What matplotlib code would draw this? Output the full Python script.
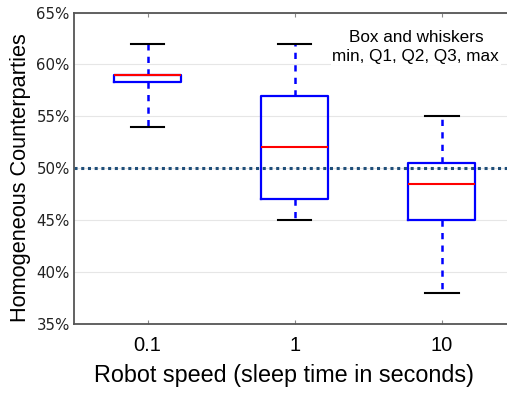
import matplotlib
matplotlib.use('Agg')
from matplotlib import pyplot as plt
from matplotlib.ticker import FuncFormatter

# Box stats (percent)
labels = ['0.1', '1', '10']
mins = [54.0, 45.0, 38.0]
q1s = [58.3, 47.0, 45.0]
medians = [59.0, 52.0, 48.5]
q3s = [59.0, 57.0, 50.5]
maxs = [62.0, 62.0, 55.0]
baseline = 50.0

stats = []
for lab, lo, q1, med, q3, hi in zip(labels, mins, q1s, medians, q3s, maxs):
    stats.append({'label': lab, 'whislo': lo, 'q1': q1, 'med': med,
                  'q3': q3, 'whishi': hi, 'fliers': []})

fig = plt.figure(figsize=(5.07, 3.93), dpi=100)
ax = fig.add_axes([0.146, 0.176, 0.87, 0.792])

# Grid lines behind everything
ax.set_axisbelow(True)
ax.yaxis.grid(True, color='#e6e6e6', linewidth=0.8)

ax.bxp(stats, positions=[1, 2, 3], widths=0.46, showfliers=False,
       boxprops=dict(color='#0000ff', linewidth=1.6),
       whiskerprops=dict(color='#0000ff', linewidth=1.8, linestyle=(0, (2.5, 2.5))),
       capprops=dict(color='black', linewidth=1.5),
       medianprops=dict(color='#ff0000', linewidth=1.5),
       capwidths=0.23)

# 50% reference line
ax.axhline(baseline, color='#1f4e79', linewidth=2.2, linestyle=(0, (1, 1.2)), zorder=1)

ax.set_xlim(0.5, 3.5)
ax.set_ylim(35, 65)
ax.set_yticks([35, 40, 45, 50, 55, 60, 65])
ax.yaxis.set_major_formatter(FuncFormatter(lambda v, p: '%d%%' % v))
for lab in ax.get_yticklabels():
    lab.set_fontsize(10.8)
    lab.set_color('#222222')

ax.set_xticks([1, 2, 3])
ax.set_xticklabels(labels, fontsize=14.5, family='Liberation Sans')
ax.tick_params(axis='x', direction='in', top=True, length=3, color='#888888', pad=9)
ax.tick_params(axis='y', length=0, pad=3)

for s in ['left', 'bottom', 'top']:
    ax.spines[s].set_color('#555555')
    ax.spines[s].set_linewidth(1.3)
ax.spines['right'].set_visible(False)

ax.set_xlabel('Robot speed (sleep time in seconds)', fontsize=16.8,
              family='Liberation Sans')
ax.xaxis.set_label_coords(0.475, -0.128, transform=ax.transAxes)
ax.xaxis.label.set_va('top')
ax.set_ylabel('Homogeneous Counterparties', fontsize=15.7,
              family='Liberation Sans')
ax.yaxis.set_label_coords(-0.098, 0.47, transform=ax.transAxes)

ax.text(0.775, 0.89, 'Box and whiskers\nmin, Q1, Q2, Q3, max', transform=ax.transAxes,
        ha='center', va='center', fontsize=12.3, family='Liberation Sans',
        linespacing=1.3, bbox=dict(facecolor='white', edgecolor='none', pad=1))

fig.savefig('out.png', dpi=100)
